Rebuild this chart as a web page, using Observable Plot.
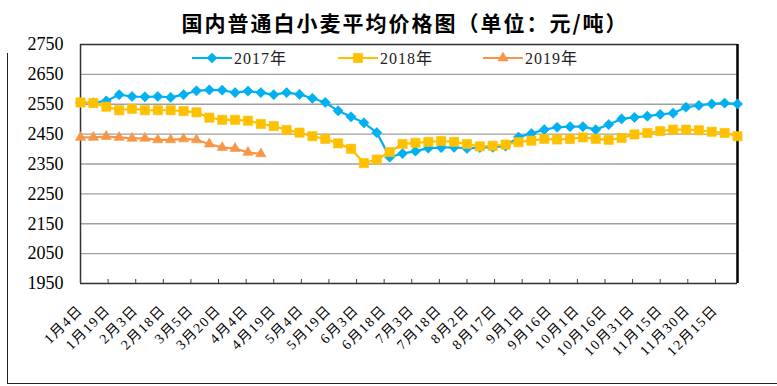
<!DOCTYPE html>
<html><head><meta charset="utf-8">
<script src="https://cdn.jsdelivr.net/npm/d3@7"></script>
<script src="https://cdn.jsdelivr.net/npm/@observablehq/plot@0.6"></script>
<style>
body{margin:0;background:#fff}
#chart{position:relative;width:777px;height:386px;overflow:hidden}
</style>
</head><body><div id="chart"></div>
<script>
const titleText = "国内普通白小麦平均价格图（单位：元/吨）";
const seriesNames = ["2017年", "2018年", "2019年"];
const seriesColors = ["#00B0F0", "#FFC000", "#F79646"];
const tickLabels = ["1月4日","1月19日","2月3日","2月18日","3月5日","3月20日","4月4日","4月19日","5月4日","5月19日","6月3日","6月18日","7月3日","7月18日","8月2日","8月17日","9月1日","9月16日","10月1日","10月16日","10月31日","11月15日","11月30日","12月15日"];
const yTicks = [1950, 2050, 2150, 2250, 2350, 2450, 2550, 2650, 2750];
const v2017 = [2555,2555,2561,2582,2576,2575,2576,2573,2582,2595,2598,2597,2589,2594,2589,2582,2589,2583,2570,2556,2528,2508,2488,2455,2373,2385,2393,2403,2405,2406,2402,2405,2406,2410,2440,2452,2465,2473,2475,2475,2465,2482,2501,2506,2510,2516,2520,2540,2546,2551,2554,2551];
const v2018 = [2556,2554,2542,2530,2535,2530,2530,2530,2527,2523,2505,2498,2498,2495,2484,2477,2464,2455,2443,2434,2419,2401,2353,2365,2390,2417,2421,2424,2427,2424,2417,2409,2411,2415,2423,2428,2434,2432,2434,2439,2434,2431,2437,2449,2454,2460,2465,2465,2463,2458,2454,2443];
const v2019 = [2439,2439,2442,2439,2436,2436,2431,2431,2434,2431,2417,2405,2402,2389,2384];

const FONT = "'Liberation Serif','Times New Roman','Noto Sans CJK SC',serif";
const toDate = s => { const m = s.match(/(\d+)月(\d+)日/); return new Date(Date.UTC(2019, +m[1] - 1, +m[2])); };
const tickDates = tickLabels.map(toDate);
const labelByTime = new Map(tickDates.map((d, i) => [+d, tickLabels[i]]));
const start = tickDates[0];
const end = d3.utcDay.offset(start, 7 * (v2017.length - 1));
const rows = (vals, name) => vals.map((v, i) => ({date: d3.utcDay.offset(start, 7 * i), value: v, series: name}));
const series = [v2017, v2018, v2019].map((v, i) => rows(v, seriesNames[i]));
const symbols = ["diamond2", "square", "triangle"];
const radii = [4.6, 5.2, 3.8];

const marks = [
  Plot.ruleY(yTicks.slice(1, -1), {stroke: "#a0a0a0", strokeWidth: 1.3}),
  Plot.ruleY([yTicks[yTicks.length - 1]], {stroke: "#303030", strokeWidth: 1.3}),
  Plot.ruleY([yTicks[0]], {stroke: "#303030", strokeWidth: 1.5}),
  Plot.ruleX([start], {stroke: "#303030", strokeWidth: 1.5}),
  Plot.ruleX([end], {stroke: "#000", strokeWidth: 2.5}),
  Plot.axisY({ticks: yTicks, tickSize: 0, tickPadding: 17, fontSize: 18, fontFamily: FONT, tickFormat: d => String(d), fill: "#000", label: null}),
  Plot.axisX({ticks: tickDates, tickSize: -4, tickFormat: () => "", stroke: "#404040", label: null}),
  Plot.axisX({ticks: tickDates, tickSize: 0, tickRotate: -45, tickPadding: 24, dx: 0, fontSize: 14, fontFamily: FONT, fill: "#000", label: null,
    tickFormat: d => labelByTime.get(+d)})
];
series.forEach((data, i) => {
  marks.push(Plot.line(data, {x: "date", y: "value", stroke: seriesColors[i], strokeWidth: 2.2}));
  marks.push(Plot.dot(data, {x: "date", y: "value", symbol: symbols[i], r: radii[i], fill: seriesColors[i], stroke: seriesColors[i], strokeWidth: 1, strokeOpacity: 0.6}));
});

const chart = Plot.plot({
  width: 777, height: 386,
  marginTop: 44, marginBottom: 103, marginLeft: 80, marginRight: 40,
  style: {fontFamily: FONT, background: "#fff", color: "#000"},
  x: {type: "utc", domain: [start, end], label: null},
  y: {domain: [yTicks[0], yTicks[yTicks.length - 1]], label: null},
  marks
});
document.getElementById("chart").appendChild(chart);

const svg = d3.select(chart);
// spaced-out date labels
const labelSet = new Set(tickLabels);
svg.selectAll("text").filter(function() { return labelSet.has(this.textContent); })
  .attr("letter-spacing", "1.5").style("letter-spacing", "1.5px");
// outer chart-area border
svg.append("line").attr("x1", 7.5).attr("x2", 7.5).attr("y1", 53).attr("y2", 383.5).attr("stroke", "#222").attr("stroke-width", 1);
svg.append("line").attr("x1", 7).attr("x2", 777).attr("y1", 383.5).attr("y2", 383.5).attr("stroke", "#222").attr("stroke-width", 1);
// title
svg.append("text").attr("x", 405).attr("y", 31).attr("text-anchor", "middle")
  .attr("font-family", "'Noto Sans CJK SC',sans-serif").attr("font-weight", "bold").attr("font-size", 21)
  .style("letter-spacing", "2px").attr("fill", "#000").text(titleText);
// legend
const legendX = [192, 338, 483];
const symbolTypes = [d3.symbolDiamond2, d3.symbolSquare, d3.symbolTriangle];
seriesNames.forEach((name, i) => {
  const g = svg.append("g").attr("transform", `translate(${legendX[i]},58)`);
  g.append("line").attr("x1", 0).attr("x2", 40).attr("y1", 0).attr("y2", 0).attr("stroke", seriesColors[i]).attr("stroke-width", 2.2);
  g.append("path").attr("transform", "translate(20,0)").attr("d", d3.symbol(symbolTypes[i], Math.PI * radii[i] * radii[i])())
    .attr("fill", seriesColors[i]).attr("stroke", seriesColors[i]).attr("stroke-opacity", 0.6);
  g.append("text").attr("x", 42).attr("y", 6).attr("text-anchor", "start").attr("font-size", 16).style("letter-spacing", "1px")
    .attr("font-family", FONT).attr("fill", "#222").text(name);
});
</script>
</body></html>
